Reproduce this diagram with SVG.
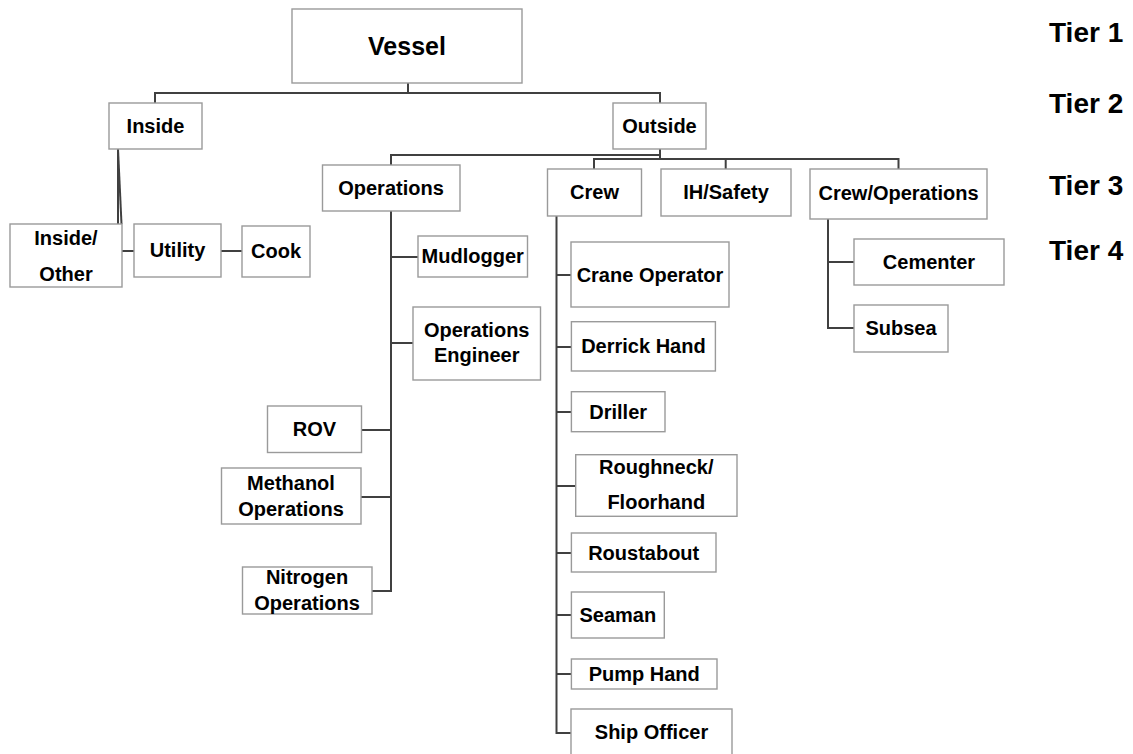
<svg xmlns="http://www.w3.org/2000/svg" width="1133" height="754" viewBox="0 0 1133 754">
<style>
.box{fill:#fff;stroke:#9a9a9a;stroke-width:1.4}
.lbl{font-family:"Liberation Sans",Arial,sans-serif;font-weight:bold;font-size:20px;fill:#000;text-anchor:middle}
.c{dominant-baseline:central}
.tier{font-family:"Liberation Sans",Arial,sans-serif;font-weight:bold;font-size:28px;fill:#000}
#connectors path{fill:none;stroke:#404040;stroke-width:2}
</style>
<rect width="1133" height="754" fill="#fff"/>
<g id="connectors">
<path d="M408,83 V93"/>
<path d="M155,103 V93 H660 V103"/>
<path d="M118,149 V224"/>
<path d="M118,149 L121.5,224"/>
<path d="M122,251 H134"/>
<path d="M221,251 H242"/>
<path d="M660,149 V159"/>
<path d="M391,165 V155 H660"/>
<path d="M594,169 V159 H898.5 V169"/>
<path d="M725.7,159 V169"/>
<path d="M391,211 V591 H372"/>
<path d="M391,257 H418"/>
<path d="M391,343 H413"/>
<path d="M361,430 H391"/>
<path d="M361,497 H391"/>
<path d="M556.5,216 V733 H571"/>
<path d="M556.5,275 H571"/>
<path d="M556.5,347 H571"/>
<path d="M556.5,412 H571"/>
<path d="M556.5,486 H576"/>
<path d="M556.5,553 H571"/>
<path d="M556.5,615 H571"/>
<path d="M556.5,674 H571"/>
<path d="M828,219 V328 H854"/>
<path d="M828,262 H854"/>
</g>
<g id="vessel"><rect class="box" x="292" y="9" width="230" height="74"/><text class="lbl c" x="407" y="46" style="font-size:25px">Vessel</text></g>
<g id="inside"><rect class="box" x="109" y="103" width="93" height="46"/><text class="lbl c" x="155.5" y="126">Inside</text></g>
<g id="outside"><rect class="box" x="613" y="103" width="93" height="46"/><text class="lbl c" x="659.5" y="126">Outside</text></g>
<g id="inside-other"><rect class="box" x="10" y="224" width="112" height="63"/><text class="lbl" x="66" y="245">Inside/</text><text class="lbl" x="66" y="281">Other</text></g>
<g id="utility"><rect class="box" x="134" y="224" width="87" height="53"/><text class="lbl c" x="177.5" y="250">Utility</text></g>
<g id="cook"><rect class="box" x="242" y="226" width="68" height="51"/><text class="lbl c" x="276" y="251">Cook</text></g>
<g id="operations"><rect class="box" x="322.5" y="165" width="137.5" height="46"/><text class="lbl c" x="391" y="188">Operations</text></g>
<g id="crew"><rect class="box" x="547.5" y="169" width="94" height="47"/><text class="lbl c" x="594.5" y="192">Crew</text></g>
<g id="ih-safety"><rect class="box" x="661" y="169" width="130" height="47"/><text class="lbl c" x="726" y="192">IH/Safety</text></g>
<g id="crew-operations"><rect class="box" x="810" y="169" width="177" height="50"/><text class="lbl c" x="898.5" y="193">Crew/Operations</text></g>
<g id="mudlogger"><rect class="box" x="418" y="236" width="109.5" height="41"/><text class="lbl c" x="472.7" y="256">Mudlogger</text></g>
<g id="operations-engineer"><rect class="box" x="413" y="307" width="127.5" height="73"/><text class="lbl" x="476.7" y="337">Operations</text><text class="lbl" x="476.7" y="362">Engineer</text></g>
<g id="rov"><rect class="box" x="267.5" y="406" width="94" height="46.5"/><text class="lbl c" x="314.5" y="429">ROV</text></g>
<g id="methanol-operations"><rect class="box" x="221.5" y="468" width="139.5" height="56"/><text class="lbl" x="291" y="490">Methanol</text><text class="lbl" x="291" y="516">Operations</text></g>
<g id="nitrogen-operations"><rect class="box" x="242.5" y="567" width="129.5" height="47"/><text class="lbl" x="307" y="584">Nitrogen</text><text class="lbl" x="307" y="610">Operations</text></g>
<g id="crane-operator"><rect class="box" x="571" y="242" width="158" height="65"/><text class="lbl c" x="650" y="275">Crane Operator</text></g>
<g id="derrick-hand"><rect class="box" x="571.4" y="321.7" width="144" height="49.3"/><text class="lbl c" x="643.4" y="346">Derrick Hand</text></g>
<g id="driller"><rect class="box" x="571.4" y="391.7" width="93.6" height="40"/><text class="lbl c" x="618.2" y="411.5">Driller</text></g>
<g id="roughneck-floorhand"><rect class="box" x="575.7" y="454.7" width="161.3" height="61.6"/><text class="lbl" x="656.3" y="474">Roughneck/</text><text class="lbl" x="656.3" y="509">Floorhand</text></g>
<g id="roustabout"><rect class="box" x="571.4" y="533" width="144.6" height="39"/><text class="lbl c" x="643.7" y="552.5">Roustabout</text></g>
<g id="seaman"><rect class="box" x="571.4" y="592" width="92.9" height="46"/><text class="lbl c" x="617.8" y="615">Seaman</text></g>
<g id="pump-hand"><rect class="box" x="571.4" y="659" width="145.6" height="30"/><text class="lbl c" x="644.2" y="674">Pump Hand</text></g>
<g id="ship-officer"><rect class="box" x="571" y="709" width="161" height="48"/><text class="lbl c" x="651.5" y="732">Ship Officer</text></g>
<g id="cementer"><rect class="box" x="854" y="239" width="150" height="46"/><text class="lbl c" x="929" y="262">Cementer</text></g>
<g id="subsea"><rect class="box" x="854" y="305" width="94" height="47"/><text class="lbl c" x="901" y="328">Subsea</text></g>
<g id="tiers">
<text class="tier" x="1049" y="42">Tier 1</text>
<text class="tier" x="1049" y="113">Tier 2</text>
<text class="tier" x="1049" y="195">Tier 3</text>
<text class="tier" x="1049" y="260">Tier 4</text>
</g>
</svg>
